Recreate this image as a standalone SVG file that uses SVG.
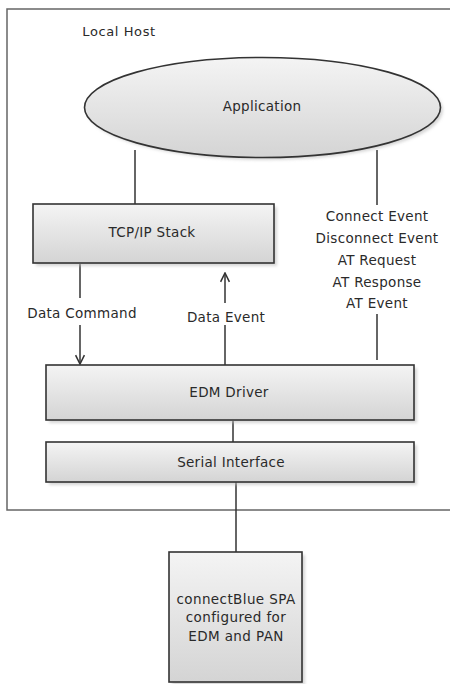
<svg xmlns="http://www.w3.org/2000/svg" width="450" height="684" viewBox="0 0 450 684">
<style>
text{font-family:"DejaVu Sans",Verdana,sans-serif;font-size:13.5px;fill:#2a2a2a;letter-spacing:0.3px;text-anchor:middle}
.box{fill:url(#g);stroke:#333;stroke-width:1.6}
.sh{fill:#bbb;opacity:0.6;filter:url(#blur)}
.ln{stroke:#333;stroke-width:1.5;fill:none}
</style>
<defs>
<linearGradient id="g" x1="0" y1="0" x2="0" y2="1">
<stop offset="0" stop-color="#f4f4f4"/>
<stop offset="1" stop-color="#d4d4d4"/>
</linearGradient>
<filter id="blur" x="-10%" y="-10%" width="120%" height="120%">
<feGaussianBlur stdDeviation="1.5"/>
</filter>
<marker id="ar" viewBox="0 0 10 10" refX="9" refY="5" markerWidth="11" markerHeight="11" markerUnits="userSpaceOnUse" orient="auto">
<path d="M1,1 L9,5 L1,9" fill="none" stroke="#333" stroke-width="1.4"/>
</marker>
</defs>
<rect x="7" y="9" width="460" height="501" fill="#fff" stroke="#666" stroke-width="1.5"/>
<text x="119" y="36" style="font-size:13px;letter-spacing:0.6px">Local Host</text>
<g id="connectors">
<line class="ln" x1="135" y1="150" x2="135" y2="204"/>
<line class="ln" x1="377" y1="150" x2="377" y2="205"/>
<line class="ln" x1="377" y1="314" x2="377" y2="360"/>
<line class="ln" x1="80" y1="264" x2="80" y2="298"/>
<line class="ln" x1="80" y1="325" x2="80" y2="364" marker-end="url(#ar)"/>
<line class="ln" x1="225" y1="303" x2="225" y2="273" marker-end="url(#ar)"/>
<line class="ln" x1="225" y1="325" x2="225" y2="365"/>
<line class="ln" x1="233" y1="421" x2="233" y2="442"/>
<line class="ln" x1="236" y1="482" x2="236" y2="552"/>
<text x="82" y="318">Data Command</text>
<text x="226" y="322">Data Event</text>
<text x="377" y="221">Connect Event</text>
<text x="377" y="243">Disconnect Event</text>
<text x="377" y="265">AT Request</text>
<text x="377" y="287">AT Response</text>
<text x="377" y="308">AT Event</text>
</g>
<g id="application">
<ellipse cx="265" cy="110" rx="178" ry="50" class="sh"/>
<ellipse cx="262.5" cy="107.5" rx="178" ry="50" class="box"/>
<text x="262" y="111">Application</text>
</g>
<g id="tcpip">
<rect x="36" y="207" width="241" height="59" class="sh"/>
<rect x="33" y="204" width="241" height="59" class="box"/>
<text x="152" y="237">TCP/IP Stack</text>
</g>
<g id="edm">
<rect x="49" y="368" width="368" height="55" class="sh"/>
<rect x="46" y="365" width="368" height="55" class="box"/>
<text x="229" y="397">EDM Driver</text>
</g>
<g id="serial">
<rect x="49" y="445" width="368" height="40" class="sh"/>
<rect x="46" y="442" width="368" height="40" class="box"/>
<text x="231" y="467">Serial Interface</text>
</g>
<g id="spa">
<rect x="172" y="555" width="133" height="130" class="sh"/>
<rect x="169" y="552" width="133" height="130" class="box"/>
<text x="236" y="604" style="font-size:13.5px;letter-spacing:0.4px">connectBlue SPA</text>
<text x="236" y="622" style="font-size:13.5px;letter-spacing:0.4px">configured for</text>
<text x="236" y="641" style="font-size:13.5px;letter-spacing:0.4px">EDM and PAN</text>
</g>
</svg>
